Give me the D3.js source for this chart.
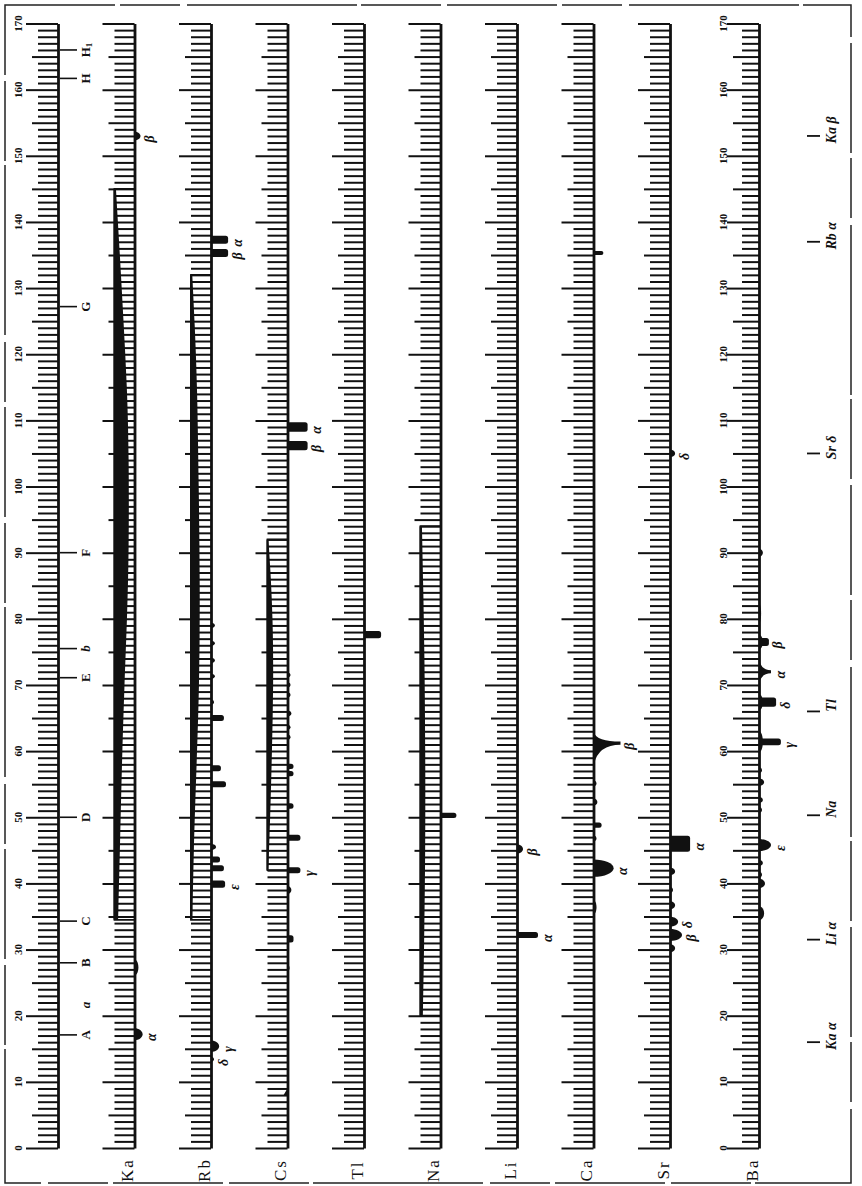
<!DOCTYPE html>
<html>
<head>
<meta charset="utf-8">
<script src="https://cdn.jsdelivr.net/npm/d3@7"></script>
<style>
  body { margin: 0; background: #fff; }
  text { font-family: "Liberation Serif", "DejaVu Serif", serif; fill: #111; }
</style>
</head>
<body>
<svg id="chart" width="862" height="1186"></svg>
<script>
// scale of the spectroscope (arbitrary units 0..170)
const scaleTicks = d3.range(0, 171, 1);
const scaleLabels = d3.range(0, 171, 10);

// element strips, left to right
const elements = ["Ka", "Rb", "Cs", "Tl", "Na", "Li", "Ca", "Sr", "Ba"];

// Fraunhofer lines on the reference scale: [label, position, has line]
const fraunhofer = [["A", 17.1, true], ["a", 21.6, false], ["B", 28.0, true], ["C", 34.3, true],
  ["D", 50.0, true], ["E", 71.1, true], ["b", 75.5, true], ["F", 90.0, true],
  ["G", 127.2, true], ["H", 161.7, true], ["H1", 166.0, true]];

// reference lines listed on the right edge: [label, position]
const refLines = [["Ka α", 16.0], ["Li α", 31.5], ["Na", 50.3], ["Tl", 66.0],
  ["Sr δ", 105.0], ["Rb α", 137.0], ["Ka β", 153.0]];

// continuous spectra: [position, strength]
const contKa = [[34.5, 2], [45, 3], [57, 4], [70, 5.5], [80, 7], [90, 8], [105, 8], [115, 7], [125, 5], [135, 3], [145, 0.8]];
const contRb = [[34.5, 0.8], [45, 1.5], [55, 2.7], [70, 4.7], [85, 5], [100, 4.3], [115, 3.5], [125, 2], [132, 0.7]];
const contCs = [[42, 0.5], [50, 1.5], [60, 2.5], [70, 3.3], [80, 3], [88, 1.5], [92, 0.5]];
const contNa = [[20, 1.3], [30, 2], [45, 2.7], [60, 2.7], [75, 2.2], [85, 1.5], [94, 0.8]];

// bright lines: [position, intensity, spread, kind, label]
const linesKa = [[17.2, 2.7, 1.8, "bump", "α"], [27.3, 1.3, 2.4, "bump", ""], [153.0, 2, 1.3, "bump", "β"]];
const linesRb = [[13.4, 1, 0.8, "bump", "δ"], [15.4, 2.7, 1.7, "bump", "γ"], [39.9, 4.7, 1.1, "bar", "ε"],
  [42.3, 4.3, 0.9, "bar", ""], [43.6, 3, 0.9, "bar", ""], [45.5, 1.7, 0.9, "bump", ""],
  [55.0, 5, 0.9, "bar", ""], [57.4, 3.3, 0.9, "bar", ""], [65.0, 4.3, 0.9, "bar", ""],
  [67.4, 1, 0.8, "bump", ""], [71.3, 1.3, 0.8, "bump", ""], [73.7, 1.3, 0.8, "bump", ""],
  [76.3, 1.3, 0.8, "bump", ""], [79.0, 1.3, 0.8, "bump", ""],
  [135.3, 5.7, 1.2, "bar", "β"], [137.3, 5.7, 1.2, "bar", "α"]];
const linesCs = [[8.5, 1.3, 1, "left", ""], [27.2, 0.7, 0.9, "bump", ""], [31.6, 2, 1.1, "bar", ""],
  [39.0, 1.3, 1.2, "bump", ""], [42.0, 4.3, 0.9, "bar", "γ"], [46.9, 4.3, 0.9, "bar", ""],
  [51.7, 2, 0.8, "bar", ""], [56.6, 2, 0.8, "bar", ""], [57.7, 2, 0.8, "bar", ""],
  [62.1, 1, 0.8, "bump", ""], [63.6, 1, 0.8, "bump", ""], [65.7, 1.3, 0.9, "bump", ""],
  [68.5, 1, 0.8, "bump", ""], [70.0, 1, 0.8, "bump", ""], [71.5, 1, 0.8, "bump", ""],
  [106.2, 6.7, 1.4, "bar", "β"], [109.0, 6.7, 1.4, "bar", "α"]];
const linesTl = [[77.6, 5.7, 1.1, "bar", ""]];
const linesNa = [[50.3, 5.3, 0.8, "bar", ""]];
const linesLi = [[32.2, 7, 0.9, "bar", "α"], [45.2, 2, 1.4, "bump", "β"]];
const linesCa = [[36.4, 1, 2.1, "bump", ""], [42.3, 6.7, 2.6, "bump", "α"], [46.8, 1, 0.9, "bump", ""],
  [48.8, 2.7, 0.8, "bar", ""], [52.3, 1.3, 1.1, "bump", ""], [55.1, 1, 0.9, "bump", ""],
  [61.2, 9, [1.7, 3.6], "peak", "β"], [135.3, 3.3, 0.6, "bar", ""]];
const linesSr = [[30.2, 1.7, 1.2, "bump", ""], [32.2, 4, 1.8, "bump", "β"], [34.2, 2.7, 1.5, "bump", "δ"],
  [36.7, 1.7, 1.2, "bump", ""], [39.0, 1, 0.9, "bump", ""], [41.8, 1.7, 1.1, "bump", ""],
  [46.0, 6.7, 2.4, "bar", "α"], [105.0, 1.7, 1.1, "bump", "δ"]];
const linesBa = [[35.5, 1.7, 2.1, "bump", ""], [40.0, 2, 1.4, "bump", ""], [41.3, 1, 0.9, "bump", ""],
  [43.1, 1.3, 0.9, "bump", ""], [45.8, 4, 1.8, "bump", "ε"], [51.1, 1, 0.9, "bump", ""],
  [52.6, 1.3, 0.9, "bump", ""], [55.3, 1.7, 1.1, "bump", ""], [57.1, 1, 0.9, "bump", ""],
  [61.4, 1.3, 3.2, "bump", ""], [61.4, 7.3, 1.0, "bar", "γ"],
  [67.4, 1.3, 2.5, "bump", ""], [67.4, 5.7, 1.4, "bar", "δ"],
  [72.0, 4, [2, 2], "peak", "α"],
  [76.5, 1.3, 2.2, "bump", ""], [76.5, 3.3, 1.2, "bar", "β"],
  [80.8, 0.7, 3, "bump", ""], [90.0, 1.3, 1.2, "bump", ""]];

const spectra = [["Ka", linesKa, contKa], ["Rb", linesRb, contRb], ["Cs", linesCs, contCs],
  ["Tl", linesTl, null], ["Na", linesNa, contNa], ["Li", linesLi, null],
  ["Ca", linesCa, null], ["Sr", linesSr, null], ["Ba", linesBa, null]];

//////////////////////////////////////////////////////////
const svg = d3.select("#chart");
const width = 862, height = 1186;

let y = d3.scaleLinear().domain([0, 170]).range([1148, 23.5]);
let unit = y(0) - y(1);
let iScale = d3.scaleLinear().domain([0, 10]).range([0, 30]);   // line length
let wScale = d3.scaleLinear().domain([0, 10]).range([0, 18]);   // continuum thickness
let xStrip = d3.scalePoint().domain(["ref", "Ka", "Rb", "Cs", "Tl", "Na", "Li", "Ca", "Sr"]).range([58, 670]);
const stripX = name => name === "Ba" ? xStrip("Sr") + 89 : xStrip(name);

const rotText = (g, x, yy, txt) => g.append("text")
  .attr("transform", `translate(${x},${yy}) rotate(-90)`)
  .attr("text-anchor", "middle")
  .attr("dominant-baseline", "central")
  .text(txt);

// dashed frame
svg.append("rect")
  .attr("x", 5).attr("y", 5).attr("width", 846).attr("height", 1178)
  .attr("fill", "none").attr("stroke", "#222").attr("stroke-width", 1.5)
  .attr("stroke-dasharray", "110,5,60,7,170,4,80,6");

// tick scales for each strip
const tickLen = d => d % 10 === 0 ? 32 : d % 5 === 0 ? 26 : 20;
let axis = d3.axisLeft(y).tickValues(scaleTicks).tickFormat("").tickSizeOuter(0);

["ref"].concat(elements).forEach(name => {
  const g = svg.append("g").attr("transform", `translate(${stripX(name)},0)`).call(axis);
  g.select(".domain").attr("stroke", "#111").attr("stroke-width", 2.8);
  g.selectAll(".tick line").attr("stroke", "#111").attr("stroke-width", 2)
    .attr("x2", d => -(name === "Ba" && d % 5 !== 0 ? 17 : tickLen(d)));
  g.selectAll(".tick text").remove();
});

// numbers on reference scale and Ba scale
[["ref", 40], ["Ba", 36]].forEach(([name, off]) => {
  const g = svg.append("g").attr("font-size", 11).attr("font-weight", "bold");
  scaleLabels.forEach(v => rotText(g, stripX(name) - off, y(v), v));
});

// Fraunhofer lines
let ref = svg.append("g");
fraunhofer.forEach(([lab, v, hasLine]) => {
  if (hasLine) {
    ref.append("line").attr("x1", stripX("ref") + 2).attr("x2", stripX("ref") + 19)
      .attr("y1", y(v)).attr("y2", y(v)).attr("stroke", "#111").attr("stroke-width", 1.6);
  }
  const t = rotText(ref, stripX("ref") + 27, y(v), "")
    .attr("font-size", 13).attr("font-weight", "bold")
    .attr("font-style", lab === "a" || lab === "b" ? "italic" : "normal");
  t.append("tspan").text(lab[0]);
  if (lab.length > 1) t.append("tspan").attr("font-size", 9).attr("dy", 4).text(lab.slice(1));
});

// continuous spectra
let contArea = d3.area().curve(d3.curveBasis).y(d => y(d[0]));
spectra.forEach(([name, lines, cont]) => {
  if (!cont) return;
  const sx = stripX(name), left = sx - 20;
  const lo = cont[0][0], hi = cont[cont.length - 1][0];
  svg.append("path")
    .attr("d", `M${sx},${y(lo)}H${left}V${y(hi)}H${sx}`)
    .attr("fill", "none").attr("stroke", "#111").attr("stroke-width", 1.8);
  svg.append("path")
    .datum(cont)
    .attr("d", contArea.x0(left - 1).x1(d => left + wScale(d[1])))
    .attr("fill", "#111");
});

// shapes of bright lines, drawn to the right of the spine
function lineShape(L, spread, kind) {
  if (kind === "peak") {
    const top = spread[0] * unit, bot = spread[1] * unit;
    return `M0,${-top}Q${L * 0.12},-1.6 ${L},-1.6V1.6Q${L * 0.12},1.6 0,${bot}Z`;
  }
  const h = spread * unit / 2;
  if (kind === "bar") {
    const r = Math.min(h, 2.5);
    return `M0,${-h}H${L - r}Q${L},${-h} ${L},${-h + r}V${h - r}Q${L},${h} ${L - r},${h}H0Z`;
  }
  if (kind === "left") return `M0,${-h}L${-L},${h}L0,${h}Z`;
  return `M0,${-h}C${L * 0.55},${-h} ${L},${-h * 0.55} ${L},0C${L},${h * 0.55} ${L * 0.55},${h} 0,${h}Z`;
}

spectra.forEach(([name, lines]) => {
  const sx = stripX(name);
  const g = svg.append("g");
  g.selectAll("path")
    .data(lines)
    .enter()
    .append("path")
    .attr("transform", d => `translate(${sx},${y(d[0])})`)
    .attr("d", d => lineShape(iScale(d[1]), d[2], d[3]))
    .attr("fill", "#111");
  lines.filter(d => d[4]).forEach(d => {
    rotText(g, sx + iScale(d[1]) + 9, y(d[0]) + 3, d[4])
      .attr("font-size", 14).attr("font-style", "italic").attr("font-weight", "bold");
  });
  // element name at the foot of the strip
  rotText(svg, sx - 7, 1170, name).attr("font-size", 17).attr("letter-spacing", 2);
});

// reference lines at the right edge
let right = svg.append("g");
refLines.forEach(([lab, v]) => {
  right.append("line").attr("x1", stripX("Ba") + 48).attr("x2", stripX("Ba") + 61)
    .attr("y1", y(v)).attr("y2", y(v)).attr("stroke", "#111").attr("stroke-width", 1.8);
  rotText(right, stripX("Ba") + 72, y(v) - 6, lab)
    .attr("font-size", 14).attr("font-style", "italic").attr("font-weight", "bold");
});
</script>
</body>
</html>
